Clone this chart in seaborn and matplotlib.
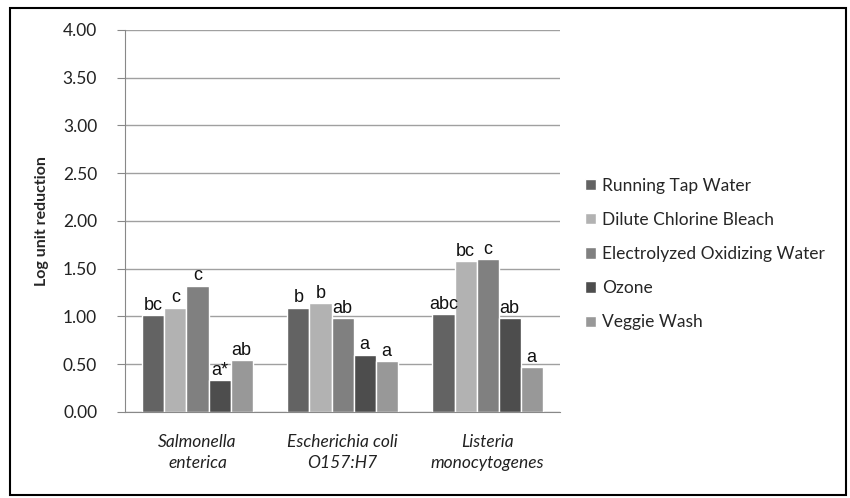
import pandas as pd
import seaborn as sns
import matplotlib.pyplot as plt
from matplotlib.patches import Rectangle

# data
pathogens = ["Salmonella\nenterica", "Escherichia coli\nO157:H7", "Listeria\nmonocytogenes"]
treatments = ["Running Tap Water", "Dilute Chlorine Bleach", "Electrolyzed Oxidizing Water",
              "Ozone", "Veggie Wash"]
tap_water = [1.01, 1.09, 1.02]
chlorine = [1.09, 1.14, 1.58]
eow = [1.32, 0.98, 1.60]
ozone = [0.33, 0.60, 0.98]
veggie = [0.54, 0.53, 0.47]
letters = {
    "Running Tap Water": ["bc", "b", "abc"],
    "Dilute Chlorine Bleach": ["c", "b", "bc"],
    "Electrolyzed Oxidizing Water": ["c", "ab", "c"],
    "Ozone": ["a*", "a", "ab"],
    "Veggie Wash": ["ab", "a", "a"],
}
colors = ["#636363", "#b2b2b2", "#808080", "#4d4d4d", "#989898"]

rows = []
for name, vals in zip(treatments, [tap_water, chlorine, eow, ozone, veggie]):
    for p, v in zip(pathogens, vals):
        rows.append({"pathogen": p, "treatment": name, "value": v})
df = pd.DataFrame(rows)

sns.set_style("white")
plt.rcParams["font.family"] = ["Lato", "DejaVu Sans"]

fig = plt.figure(figsize=(8.5, 4.98), dpi=100)
ax = fig.add_axes([0.147, 0.173, 0.512, 0.767])

sns.barplot(data=df, x="pathogen", y="value", hue="treatment", hue_order=treatments,
            palette=colors, width=0.76, saturation=1, ax=ax, zorder=2)

# letters above bars
for cont, name in zip(ax.containers, treatments):
    ax.bar_label(cont, labels=letters[name], padding=1, fontsize=13,
                 family="Liberation Sans", color="#111111")

ax.set_ylim(0, 4)
ax.set_xlim(-0.5, 2.5)
ax.set_yticks([i * 0.5 for i in range(9)])
ax.set_yticklabels([f"{i * 0.5:.2f}" for i in range(9)], fontsize=12.5, color="#222222")
ax.yaxis.grid(True, color="#a0a0a0", linewidth=1, zorder=0)
ax.set_axisbelow(True)

ax.set_xticks([0, 1, 2])
ax.set_xticklabels(pathogens, fontsize=12.5, style="italic", linespacing=1.35, color="#222222")
ax.set_xticks([-0.5, 0.5, 1.5, 2.5], minor=True)
ax.tick_params(axis="x", which="major", length=0, pad=16)
ax.tick_params(axis="x", which="minor", length=6, color="#888888", direction="out")
ax.tick_params(axis="y", length=6, color="#888888", direction="out", left=True, pad=14)

for s in ["top", "right"]:
    ax.spines[s].set_visible(False)
for s in ["left", "bottom"]:
    ax.spines[s].set_color("#888888")

ax.set_xlabel("")
ax.set_ylabel("Log unit reduction", fontsize=11.5, fontweight="bold", labelpad=10)

ax.legend(loc="center left", bbox_to_anchor=(0.678, 0.49), bbox_transform=fig.transFigure,
          frameon=False, fontsize=12.5, handlelength=0.65, handleheight=0.65,
          handletextpad=0.35, labelspacing=1.05, borderpad=0)

# outer frame
fig.patches.append(Rectangle((0.012, 0.006), 0.983, 0.978, transform=fig.transFigure,
                             fill=False, edgecolor="black", linewidth=1.5))

fig.savefig("out.png", dpi=100)
